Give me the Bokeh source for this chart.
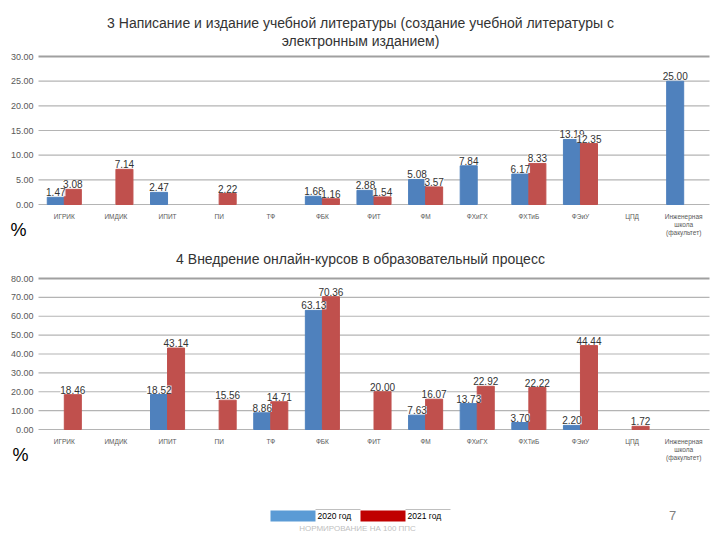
from bokeh.plotting import figure
from bokeh.models import (ColumnDataSource, Label, LinearAxis, BoxAnnotation,
                          NumeralTickFormatter, FixedTicker, Range1d)
from bokeh.layouts import column
from bokeh.core.properties import value
from bokeh.embed import file_html
from bokeh.resources import INLINE

categories = ["ИГРИК", "ИМДИК", "ИПИТ", "ПИ", "ТФ", "ФБК", "ФИТ", "ФМ", "ФХиГХ",
              "ФХТиБ", "ФЭиУ", "ЦПД", "Инженерная\nшкола\n(факультет)"]

# Chart 3: writing and publishing of textbooks
lit_2020 = [1.47, None, 2.47, None, None, 1.68, 2.88, 5.08, 7.84, 6.17, 13.19, None, 25.00]
lit_2021 = [3.08, 7.14, None, 2.22, None, 1.16, 1.54, 3.57, None, 8.33, 12.35, None, None]
lit_ticks = [0, 5, 10, 15, 20, 25, 30]

# Chart 4: online courses
onl_2020 = [None, None, 18.52, None, 8.86, 63.13, None, 7.63, 13.73, 3.70, 2.20, None, None]
onl_2021 = [18.46, None, 43.14, 15.56, 14.71, 70.36, 20.00, 16.07, 22.92, 22.22, 44.44, 1.72, None]
onl_ticks = [0, 10, 20, 30, 40, 50, 60, 70, 80]

series_names = ["2020 год", "2021 год"]
title3_l1 = "3 Написание и издание учебной литературы (создание учебной литературы с"
title3_l2 = "электронным изданием)"
title4 = "4 Внедрение онлайн-курсов в образовательный процесс"
footer = "НОРМИРОВАНИЕ НА 100 ППС"
page_no = "7"

FONT = "Liberation Sans"
BLUE = "#4F81BD"
RED = "#C0504D"
N = len(categories)

# layout (pixels on the page)
FIG_W = 712
FRAME_L, FRAME_R = 38, 709
CAT_W = (FRAME_R - FRAME_L) / N
X_START = -0.5 - FRAME_L / CAT_W
X_END = N - 0.5 + (FIG_W - FRAME_R) / CAT_W


def src(vals, off):
    idx = [i + off for i, v in enumerate(vals) if v is not None]
    ys = [v for v in vals if v is not None]
    return ColumnDataSource(dict(x=idx, v=ys, lbl=["%.2f" % v for v in ys]))


def lab(text, x, y, size, color, align="center"):
    return Label(x=x, y=y, x_units="screen", y_units="screen", text=text,
                 text_align=align, text_baseline="middle", text_font=FONT,
                 text_font_size=size, text_color=color)


def bare_fig(height, xr, yr):
    p = figure(x_range=xr, y_range=yr, width=FIG_W, height=height,
               output_backend="svg", toolbar_location=None,
               x_axis_location=None, y_axis_location=None,
               min_border=0, min_border_left=0, min_border_right=0,
               min_border_top=0, min_border_bottom=0)
    p.outline_line_color = None
    p.grid.grid_line_color = None
    p.background_fill_color = "white"
    p.border_fill_color = "white"
    return p


def make_chart(v20, v21, ticks, height, zero_px, top_px):
    # zero_px / top_px: canvas y (from top) of the 0 line and of the top tick line
    k = (zero_px - top_px) / ticks[-1]
    yr = Range1d(-(height - zero_px) / k, ticks[-1] + top_px / k)
    p = bare_fig(height, Range1d(X_START, X_END), yr)

    grid = ColumnDataSource(dict(
        y=ticks,
        w=[2.2 if t == ticks[-1] else 1.2 for t in ticks],
        c=["#A0A0A0" if t == ticks[-1] else "#B4B4B4" for t in ticks]))
    p.segment(x0=-0.5, x1=N - 0.5, y0="y", y1="y", source=grid,
              line_color="c", line_width="w")

    yaxis = LinearAxis(fixed_location=-0.5, ticker=FixedTicker(ticks=ticks),
                       formatter=NumeralTickFormatter(format="0.00"))
    xaxis = LinearAxis(fixed_location=0, ticker=FixedTicker(ticks=list(range(N))),
                       major_label_overrides={i: c for i, c in enumerate(categories)})
    for ax in (xaxis, yaxis):
        ax.axis_line_color = None
        ax.major_tick_line_color = None
        ax.minor_tick_line_color = None
        ax.major_tick_out = 0
        ax.major_tick_in = 0
        ax.minor_tick_out = 0
        ax.minor_tick_in = 0
        ax.major_label_text_font = FONT
        ax.major_label_text_color = "#595959"
    yaxis.major_label_text_font_size = "9px"
    yaxis.major_label_standoff = 5
    xaxis.major_label_text_font_size = "6.5px"
    xaxis.major_label_standoff = 8
    p.add_layout(yaxis, "left")
    p.add_layout(xaxis, "below")

    for vals, off, col in ((v20, -0.165, BLUE), (v21, 0.165, RED)):
        s = src(vals, off)
        p.vbar(x="x", top="v", width=0.33, source=s, fill_color=col, line_color=col)
    for vals, off in ((v20, -0.165), (v21, 0.165)):
        s = src(vals, off)
        p.text(x="x", y="v", text="lbl", source=s,
               text_align="center", text_baseline="bottom", y_offset=-1,
               text_font=value(FONT), text_font_size="10px", text_color="#333333",
               background_fill_color="white", background_fill_alpha=0.85, padding=0)
    return p


# top chart: canvas = page y 0..250; 0 line at 204, 30 line at 56
p1 = make_chart(lit_2020, lit_2021, lit_ticks, 250, 204, 56)
p1.add_layout(lab(title3_l1, 360, 228, "14px", "#333333"))
p1.add_layout(lab(title3_l2, 360, 210, "14px", "#333333"))
p1.add_layout(lab("%", 18, 21, "18px", "black"))

# bottom chart: canvas = page y 250..470; 0 line at 429, 80 line at 278
p2 = make_chart(onl_2020, onl_2021, onl_ticks, 220, 179, 28)
p2.add_layout(lab(title4, 360, 212, "14px", "#333333"))
p2.add_layout(lab("%", 20, 16, "18px", "black"))

# footer strip: canvas = page y 470..536, data units = pixels
p3 = bare_fig(66, Range1d(0, FIG_W), Range1d(0, 66))
p3.add_layout(BoxAnnotation(left=270, right=315, bottom=15, top=26,
                            fill_color="#5B9BD5", fill_alpha=1, line_color=None))
p3.add_layout(BoxAnnotation(left=360, right=405, bottom=15, top=26,
                            fill_color="#C00000", fill_alpha=1, line_color=None))
p3.add_layout(BoxAnnotation(left=315, right=360, bottom=26.5, top=27.5,
                            fill_color="#BFBFBF", fill_alpha=1, line_color=None))
p3.add_layout(BoxAnnotation(left=405, right=450, bottom=26.5, top=27.5,
                            fill_color="#BFBFBF", fill_alpha=1, line_color=None))
p3.add_layout(lab(series_names[0], 317, 20.5, "8.5px", "black", "left"))
p3.add_layout(lab(series_names[1], 407, 20.5, "8.5px", "black", "left"))
p3.add_layout(lab(footer, 357, 8, "8px", "#BFBFBF"))
p3.add_layout(lab(page_no, 672, 21, "13px", "#7F7F7F"))

layout = column(p1, p2, p3, spacing=0)
open("out.html", "w").write(file_html(layout, INLINE))
